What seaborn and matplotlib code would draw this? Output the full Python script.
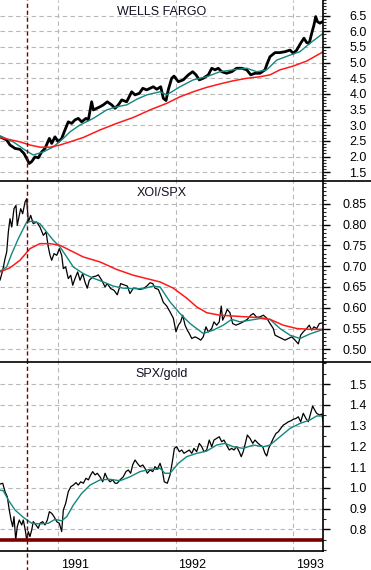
import matplotlib
matplotlib.use('Agg')
import matplotlib.pyplot as plt
import matplotlib.ticker as mticker
import matplotlib.transforms as mtransforms
from matplotlib.lines import Line2D
import numpy as np
import seaborn as sns

# 時間軸は小数年 (1990.5 = 1990年7月)
# --- Wells Fargo ---
wfc_t = [1990.506, 1990.563, 1990.591, 1990.634, 1990.676, 1990.710, 1990.733, 1990.755,
         1990.776, 1990.804, 1990.832, 1990.861, 1990.889, 1990.926, 1990.946, 1990.974,
         1991.002, 1991.031, 1991.059, 1991.087, 1991.116, 1991.144, 1991.172, 1991.201,
         1991.238, 1991.258, 1991.286, 1991.300, 1991.329, 1991.357, 1991.385, 1991.419,
         1991.457, 1991.485, 1991.513, 1991.542, 1991.584, 1991.627, 1991.655, 1991.692,
         1991.721, 1991.755, 1991.783, 1991.811, 1991.840, 1991.874, 1991.896, 1991.919,
         1991.938, 1991.967, 1991.987, 1992.024, 1992.066, 1992.109, 1992.146, 1992.174,
         1992.202, 1992.236, 1992.279, 1992.308, 1992.336, 1992.364, 1992.393, 1992.435,
         1992.478, 1992.520, 1992.563, 1992.606, 1992.640, 1992.676, 1992.719, 1992.761,
         1992.781, 1992.804, 1992.847, 1992.889, 1992.932, 1992.974, 1993.002, 1993.031,
         1993.065, 1993.093, 1993.116, 1993.138, 1993.159, 1993.178, 1993.193, 1993.207,
         1993.229, 1993.252]
wfc_px = [2.63, 2.53, 2.37, 2.26, 2.23, 2.10, 1.94, 1.78,
          1.84, 1.99, 1.96, 2.15, 2.26, 2.58, 2.42, 2.63,
          2.47, 2.58, 2.85, 3.11, 3.06, 3.17, 3.22, 3.11,
          3.22, 3.17, 3.75, 3.49, 3.54, 3.59, 3.65, 3.75,
          3.65, 3.54, 3.65, 3.81, 3.75, 4.07, 3.97, 4.02,
          4.18, 4.13, 4.18, 4.23, 4.15, 4.23, 3.86, 3.79,
          4.13, 4.50, 4.57, 4.39, 4.45, 4.61, 4.71, 4.61,
          4.45, 4.50, 4.61, 4.82, 4.77, 4.82, 4.71, 4.66,
          4.71, 4.82, 4.82, 4.77, 4.61, 4.66, 4.66, 4.77,
          4.98, 5.19, 5.32, 5.32, 5.35, 5.40, 5.30, 5.40,
          5.62, 5.78, 5.64, 5.62, 5.94, 6.20, 6.47, 6.31,
          6.26, 6.31]
wfc_fast_t = [1990.506, 1990.619, 1990.719, 1990.789, 1990.875, 1990.960, 1991.045, 1991.102,
              1991.187, 1991.300, 1991.414, 1991.499, 1991.584, 1991.670, 1991.755, 1991.868,
              1991.925, 1992.038, 1992.151, 1992.265, 1992.378, 1992.491, 1992.606, 1992.691,
              1992.776, 1992.861, 1992.974, 1993.059, 1993.144, 1993.258]
wfc_fast = [2.66, 2.47, 2.21, 2.05, 2.15, 2.31, 2.58, 2.79,
            3.01, 3.22, 3.49, 3.59, 3.65, 3.83, 3.97, 4.07,
            3.97, 4.23, 4.45, 4.55, 4.71, 4.77, 4.82, 4.71,
            4.77, 5.08, 5.24, 5.35, 5.62, 5.94]
wfc_slow_t = [1990.506, 1990.676, 1990.761, 1990.846, 1990.932, 1991.017, 1991.102, 1991.215,
              1991.357, 1991.499, 1991.641, 1991.783, 1991.925, 1992.038, 1992.151, 1992.265,
              1992.378, 1992.491, 1992.606, 1992.719, 1992.804, 1992.889, 1993.002, 1993.116,
              1993.258]
wfc_slow = [2.61, 2.47, 2.37, 2.30, 2.30, 2.37, 2.47, 2.61,
            2.85, 3.06, 3.25, 3.49, 3.70, 3.91, 4.07, 4.21,
            4.32, 4.42, 4.50, 4.55, 4.61, 4.77, 4.89, 5.05,
            5.35]
wfc_ticks = [1.5, 2.0, 2.5, 3.0, 3.5, 4.0, 4.5, 5.0, 5.5, 6.0, 6.5]

# --- XOI/SPX ---
xoi_t = [1990.506, 1990.529, 1990.549, 1990.563, 1990.577, 1990.591, 1990.606, 1990.625,
         1990.642, 1990.653, 1990.670, 1990.682, 1990.699, 1990.719, 1990.733, 1990.747,
         1990.767, 1990.789, 1990.818, 1990.846, 1990.875, 1990.898, 1990.917, 1990.932,
         1990.946, 1990.966, 1990.989, 1991.011, 1991.031, 1991.045, 1991.065, 1991.087,
         1991.108, 1991.125, 1991.144, 1991.167, 1991.187, 1991.210, 1991.229, 1991.249,
         1991.266, 1991.295, 1991.323, 1991.343, 1991.372, 1991.400, 1991.419, 1991.448,
         1991.476, 1991.504, 1991.533, 1991.561, 1991.590, 1991.612, 1991.641, 1991.670,
         1991.698, 1991.726, 1991.755, 1991.783, 1991.806, 1991.825, 1991.853, 1991.874,
         1991.896, 1991.925, 1991.953, 1991.981, 1992.004, 1992.024, 1992.044, 1992.061,
         1992.081, 1992.100, 1992.117, 1992.138, 1992.166, 1992.194, 1992.214, 1992.236,
         1992.259, 1992.279, 1992.308, 1992.327, 1992.350, 1992.372, 1992.389, 1992.401,
         1992.421, 1992.440, 1992.463, 1992.486, 1992.514, 1992.548, 1992.576, 1992.611,
         1992.640, 1992.662, 1992.691, 1992.719, 1992.747, 1992.776, 1992.804, 1992.832,
         1992.847, 1992.875, 1992.904, 1992.932, 1992.960, 1992.989, 1993.017, 1993.045,
         1993.065, 1993.087, 1993.116, 1993.138, 1993.159, 1993.178, 1993.201, 1993.224,
         1993.258]
xoi_ratio = [0.666, 0.690, 0.718, 0.734, 0.782, 0.814, 0.794, 0.838,
             0.846, 0.798, 0.822, 0.838, 0.826, 0.854, 0.862, 0.806,
             0.822, 0.802, 0.806, 0.794, 0.774, 0.782, 0.746, 0.726,
             0.714, 0.730, 0.726, 0.742, 0.726, 0.694, 0.698, 0.670,
             0.678, 0.654, 0.670, 0.686, 0.666, 0.682, 0.662, 0.647,
             0.666, 0.674, 0.676, 0.679, 0.666, 0.650, 0.658, 0.646,
             0.642, 0.631, 0.658, 0.655, 0.652, 0.634, 0.647, 0.646,
             0.644, 0.646, 0.652, 0.660, 0.658, 0.647, 0.644, 0.630,
             0.613, 0.604, 0.590, 0.575, 0.542, 0.558, 0.566, 0.582,
             0.558, 0.546, 0.538, 0.526, 0.530, 0.526, 0.522, 0.530,
             0.554, 0.542, 0.550, 0.566, 0.558, 0.566, 0.604, 0.570,
             0.582, 0.596, 0.588, 0.562, 0.558, 0.562, 0.566, 0.572,
             0.582, 0.586, 0.577, 0.578, 0.582, 0.575, 0.562, 0.550,
             0.534, 0.530, 0.526, 0.522, 0.526, 0.530, 0.522, 0.513,
             0.534, 0.542, 0.550, 0.558, 0.546, 0.554, 0.550, 0.562,
             0.564]
xoi_fast_t = [1990.506, 1990.563, 1990.606, 1990.662, 1990.733, 1990.789, 1990.846, 1990.903,
              1990.960, 1991.017, 1991.074, 1991.130, 1991.215, 1991.300, 1991.385, 1991.470,
              1991.555, 1991.641, 1991.726, 1991.811, 1991.868, 1991.953, 1992.038, 1992.123,
              1992.236, 1992.321, 1992.406, 1992.478, 1992.548, 1992.634, 1992.719, 1992.804,
              1992.889, 1992.974, 1993.059, 1993.144, 1993.258]
xoi_fast = [0.688, 0.698, 0.730, 0.766, 0.806, 0.808, 0.802, 0.782,
            0.762, 0.746, 0.722, 0.698, 0.682, 0.671, 0.662, 0.652,
            0.647, 0.646, 0.646, 0.652, 0.650, 0.614, 0.586, 0.562,
            0.538, 0.546, 0.558, 0.572, 0.566, 0.570, 0.574, 0.572,
            0.550, 0.534, 0.526, 0.537, 0.548]
xoi_slow_t = [1990.506, 1990.591, 1990.676, 1990.761, 1990.846, 1990.932, 1991.017, 1991.102,
              1991.215, 1991.357, 1991.499, 1991.641, 1991.783, 1991.868, 1991.981, 1992.095,
              1992.180, 1992.265, 1992.378, 1992.491, 1992.606, 1992.719, 1992.804, 1992.917,
              1993.031, 1993.144, 1993.258]
xoi_slow = [0.686, 0.696, 0.714, 0.742, 0.754, 0.754, 0.750, 0.738,
            0.722, 0.710, 0.692, 0.678, 0.668, 0.662, 0.647, 0.623,
            0.602, 0.588, 0.582, 0.580, 0.578, 0.576, 0.572, 0.558,
            0.550, 0.548, 0.548]
xoi_ticks = [0.50, 0.55, 0.60, 0.65, 0.70, 0.75, 0.80, 0.85]

# --- SPX/gold ---
gold_t = [1990.506, 1990.529, 1990.549, 1990.568, 1990.585, 1990.600, 1990.614, 1990.625,
          1990.640, 1990.653, 1990.670, 1990.691, 1990.704, 1990.721, 1990.733, 1990.747,
          1990.761, 1990.776, 1990.789, 1990.812, 1990.832, 1990.846, 1990.869, 1990.889,
          1990.909, 1990.926, 1990.946, 1990.966, 1990.989, 1991.011, 1991.031, 1991.045,
          1991.065, 1991.087, 1991.108, 1991.130, 1991.153, 1991.172, 1991.193, 1991.215,
          1991.238, 1991.258, 1991.278, 1991.295, 1991.315, 1991.334, 1991.357, 1991.380,
          1991.400, 1991.419, 1991.442, 1991.465, 1991.485, 1991.504, 1991.527, 1991.555,
          1991.578, 1991.598, 1991.618, 1991.635, 1991.655, 1991.675, 1991.698, 1991.721,
          1991.740, 1991.760, 1991.783, 1991.806, 1991.825, 1991.845, 1991.868, 1991.887,
          1991.904, 1991.930, 1991.953, 1991.973, 1991.990, 1992.010, 1992.032, 1992.053,
          1992.072, 1992.095, 1992.117, 1992.138, 1992.157, 1992.180, 1992.202, 1992.223,
          1992.242, 1992.265, 1992.287, 1992.308, 1992.327, 1992.350, 1992.372, 1992.393,
          1992.412, 1992.435, 1992.457, 1992.478, 1992.497, 1992.520, 1992.542, 1992.559,
          1992.576, 1992.594, 1992.611, 1992.634, 1992.657, 1992.676, 1992.696, 1992.719,
          1992.742, 1992.761, 1992.776, 1992.793, 1992.813, 1992.832, 1992.855, 1992.875,
          1992.895, 1992.917, 1992.940, 1992.960, 1992.983, 1993.002, 1993.025, 1993.045,
          1993.065, 1993.087, 1993.110, 1993.130, 1993.150, 1993.167, 1993.184, 1993.201,
          1993.224, 1993.244, 1993.258]
gold_ratio = [1.018, 1.022, 0.981, 0.957, 0.893, 0.845, 0.813, 0.861,
              0.749, 0.813, 0.845, 0.821, 0.845, 0.797, 0.749, 0.789,
              0.765, 0.797, 0.837, 0.821, 0.805, 0.829, 0.837, 0.821,
              0.845, 0.885, 0.877, 0.861, 0.837, 0.829, 0.789, 0.893,
              0.925, 0.981, 1.005, 1.013, 1.025, 1.013, 1.029, 1.022,
              1.046, 1.038, 1.062, 1.078, 1.062, 1.070, 1.053, 1.029,
              1.070, 1.046, 1.029, 1.038, 1.022, 1.022, 1.038, 1.053,
              1.078, 1.086, 1.070, 1.110, 1.134, 1.118, 1.102, 1.110,
              1.094, 1.070, 1.086, 1.078, 1.102, 1.089, 1.118, 1.086,
              1.029, 1.022, 1.062, 1.126, 1.190, 1.198, 1.174, 1.182,
              1.166, 1.174, 1.182, 1.166, 1.190, 1.174, 1.214, 1.198,
              1.174, 1.182, 1.230, 1.198, 1.230, 1.238, 1.246, 1.222,
              1.230, 1.206, 1.182, 1.190, 1.182, 1.198, 1.174, 1.150,
              1.174, 1.214, 1.254, 1.238, 1.214, 1.230, 1.218, 1.206,
              1.198, 1.166, 1.153, 1.190, 1.214, 1.238, 1.262, 1.270,
              1.286, 1.302, 1.310, 1.318, 1.323, 1.330, 1.334, 1.342,
              1.318, 1.359, 1.334, 1.318, 1.359, 1.394, 1.375, 1.359,
              1.351, 1.355, 1.318]
gold_fast_t = [1990.506, 1990.534, 1990.577, 1990.634, 1990.704, 1990.776, 1990.846, 1990.917,
               1990.974, 1991.031, 1991.074, 1991.130, 1991.201, 1991.272, 1991.357, 1991.442,
               1991.527, 1991.612, 1991.698, 1991.783, 1991.840, 1991.868, 1991.910, 1991.953,
               1992.024, 1992.095, 1992.180, 1992.265, 1992.350, 1992.421, 1992.491, 1992.576,
               1992.662, 1992.747, 1992.804, 1992.889, 1992.974, 1993.059, 1993.144, 1993.201,
               1993.258]
gold_fast = [0.989, 0.986, 0.941, 0.893, 0.858, 0.829, 0.826, 0.829,
             0.848, 0.841, 0.861, 0.917, 0.973, 1.013, 1.038, 1.041,
             1.034, 1.053, 1.078, 1.089, 1.089, 1.094, 1.070, 1.070,
             1.118, 1.150, 1.166, 1.177, 1.206, 1.214, 1.198, 1.190,
             1.206, 1.198, 1.206, 1.246, 1.286, 1.310, 1.327, 1.346,
             1.346]
gold_floor = 0.748
gold_ticks = [0.8, 0.9, 1.0, 1.1, 1.2, 1.3, 1.4, 1.5]

event_t = 1990.736          # 1990年10月の安値
year_ticks = [1991, 1992, 1993]
x_range = (1990.506, 1993.255)

TEAL = '#13877c'
RED = '#ff1a1a'
DARK_RED = '#7a0000'
GRID = '#b8b8b8'


def style_panel(ax, title, ylim, ticks, minor, fmt):
    ax.set_xlim(*x_range)
    ax.set_ylim(*ylim)
    ax.set_xlabel('')
    ax.set_ylabel('')
    ax.set_xticks(year_ticks)
    ax.xaxis.set_minor_locator(mticker.FixedLocator(np.arange(1990.5, 1993.3, 1 / 12)))
    ax.yaxis.set_major_locator(mticker.FixedLocator(ticks))
    ax.yaxis.set_minor_locator(mticker.MultipleLocator(minor))
    ax.yaxis.set_major_formatter(mticker.FormatStrFormatter(fmt))
    ax.yaxis.tick_right()
    ax.grid(True, which='major', color=GRID, linestyle=(0, (4, 3)), linewidth=0.8)
    ax.set_axisbelow(True)
    for side in ('left', 'top', 'bottom'):
        ax.spines[side].set_visible(False)
    ax.spines['right'].set_color('black')
    ax.spines['right'].set_linewidth(1.2)
    ax.tick_params(axis='y', which='major', length=5, width=1, pad=26.5,
                   labelsize=9, colors='black')
    ax.tick_params(axis='y', which='minor', length=2.5, width=0.8)
    for lab in ax.get_yticklabels():
        lab.set_horizontalalignment('right')
    ax.tick_params(axis='x', which='both', length=0, labelbottom=False)
    ax.text(0.5, 0.968, title, transform=ax.transAxes, ha='center', va='top',
            fontsize=9, color='#111122')
    ax.axvline(event_t, color=DARK_RED, linestyle=(0, (3, 2)), linewidth=1)


def draw():
    sns.set_style('white')
    plt.rcParams['font.family'] = ['Liberation Sans', 'DejaVu Sans']

    fig = plt.figure(figsize=(3.71, 5.70), dpi=100)
    W, H = 371, 570
    right = 323 / W
    ax1 = fig.add_axes([0, 1 - 181 / H, right, 181 / H])
    ax2 = fig.add_axes([0, 1 - 362 / H, right, 181 / H])
    ax3 = fig.add_axes([0, 1 - 550.5 / H, right, 188.5 / H])

    # Wells Fargo
    sns.lineplot(x=wfc_t, y=wfc_px, ax=ax1, color='black', linewidth=2.0, estimator=None)
    sns.lineplot(x=wfc_fast_t, y=wfc_fast, ax=ax1, color=TEAL, linewidth=1.0, estimator=None)
    sns.lineplot(x=wfc_slow_t, y=wfc_slow, ax=ax1, color=RED, linewidth=1.1, estimator=None)
    style_panel(ax1, 'WELLS FARGO', (1.22, 7.00), wfc_ticks, 0.1, '%.1f')

    # XOI/SPX
    sns.lineplot(x=xoi_t, y=xoi_ratio, ax=ax2, color='black', linewidth=0.9, estimator=None)
    sns.lineplot(x=xoi_fast_t, y=xoi_fast, ax=ax2, color=TEAL, linewidth=1.0, estimator=None)
    sns.lineplot(x=xoi_slow_t, y=xoi_slow, ax=ax2, color=RED, linewidth=1.1, estimator=None)
    style_panel(ax2, 'XOI/SPX', (0.4695, 0.9046), xoi_ticks, 0.01, '%.2f')

    # SPX/gold
    sns.lineplot(x=gold_t, y=gold_ratio, ax=ax3, color='black', linewidth=0.9, estimator=None)
    sns.lineplot(x=gold_fast_t, y=gold_fast, ax=ax3, color=TEAL, linewidth=1.0, estimator=None)
    ax3.axhline(gold_floor, color=DARK_RED, linewidth=2.6)
    style_panel(ax3, 'SPX/gold', (0.698, 1.606), gold_ticks, 0.05, '%.1f')

    # 下段のみ年ラベル
    ax3.spines['bottom'].set_visible(True)
    ax3.spines['bottom'].set_color('black')
    ax3.spines['bottom'].set_linewidth(1.2)
    ax3.set_xticks(year_ticks)
    ax3.set_xticklabels([str(y) for y in year_ticks])
    ax3.tick_params(axis='x', which='major', length=14.4, width=1, direction='out',
                    labelbottom=True, pad=-8.5, labelsize=9, colors='black')
    ax3.tick_params(axis='x', which='minor', length=5.5, width=1, direction='out')
    shift = mtransforms.ScaledTranslation(2 / 72, 0, fig.dpi_scale_trans)
    for lab in ax3.get_xticklabels():
        lab.set_horizontalalignment('left')
        lab.set_transform(lab.get_transform() + shift)
    ax3.axvline(event_t, ymin=-0.11, ymax=0, color=DARK_RED,
                linestyle=(0, (3, 2)), linewidth=1, clip_on=False)

    # パネル区切り線（右端まで）
    for yy in (181, 362):
        fig.add_artist(Line2D([0, 1], [1 - yy / H, 1 - yy / H], color='black',
                              linewidth=1.2, transform=fig.transFigure))

    fig.savefig('out.png', dpi=100, facecolor='white')


if __name__ == '__main__':
    draw()
